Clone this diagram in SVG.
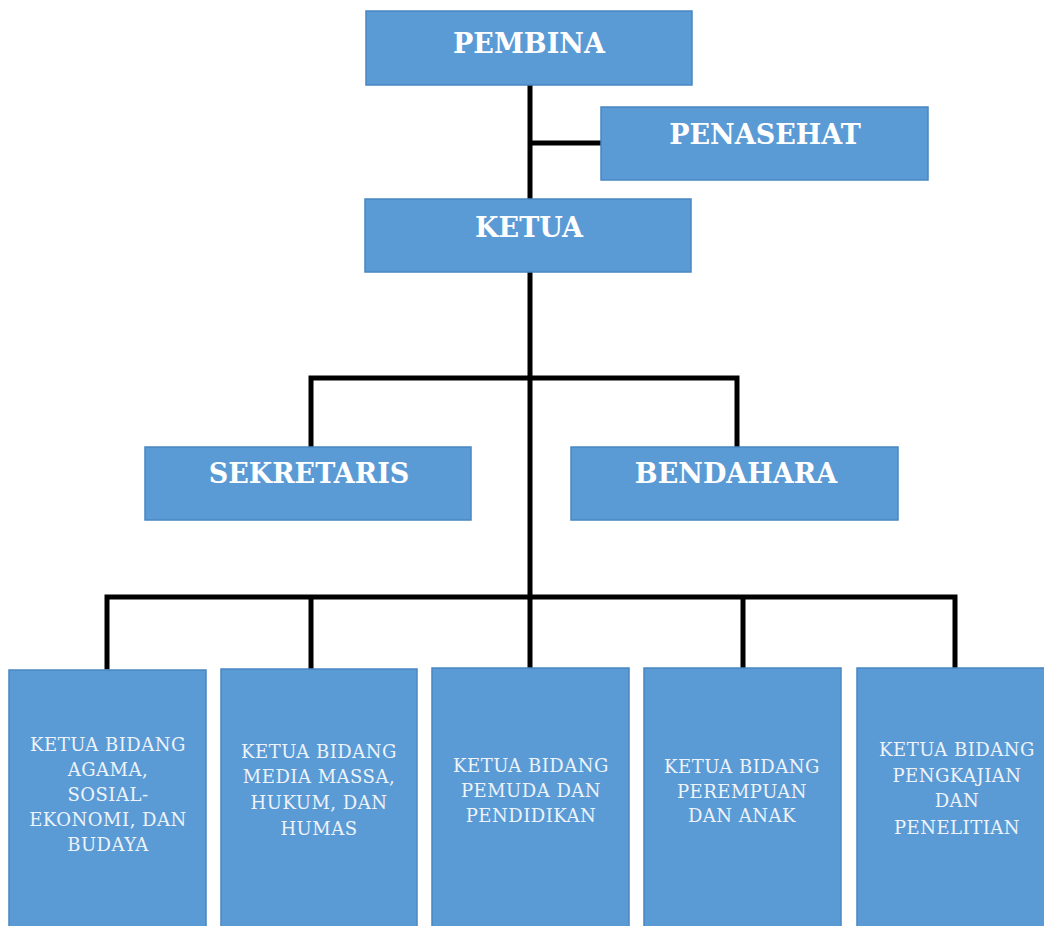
<svg xmlns="http://www.w3.org/2000/svg" width="1044" height="926" viewBox="0 0 1044 926">
<style>
.box{fill:#5b9bd5;stroke:#4a86c2;stroke-width:1.5}
.t{font-family:"DejaVu Serif","Liberation Serif",serif;font-weight:bold;font-size:27px;fill:#ffffff;text-anchor:middle}
.s{font-family:"DejaVu Serif","Liberation Serif",serif;font-size:18px;letter-spacing:0.5px;fill:#eef3fa;text-anchor:middle}
.ln{stroke:#000;stroke-width:5;fill:none;stroke-linecap:square}
</style>
<rect width="1044" height="926" fill="#fff"/>
<g id="connectors">
<path class="ln" d="M530 86V199M530 143H601"/>
<path class="ln" d="M530 273V597M311 378H737M311 378V446M737 378V446"/>
<path class="ln" d="M107 597H955M107 597V667M311 597V667M530 597V667M743 597V667M955 597V667"/>
</g>
<g id="pembina"><rect class="box" x="366" y="11" width="326" height="74"/><text class="t" x="529" y="53">PEMBINA</text></g>
<g id="penasehat"><rect class="box" x="601" y="107" width="327" height="73"/><text class="t" x="765" y="144">PENASEHAT</text></g>
<g id="ketua"><rect class="box" x="365" y="199" width="326" height="73"/><text class="t" x="529" y="237">KETUA</text></g>
<g id="sekretaris"><rect class="box" x="145" y="447" width="326" height="73"/><text class="t" x="309" y="483">SEKRETARIS</text></g>
<g id="bendahara"><rect class="box" x="571" y="447" width="327" height="73"/><text class="t" x="736" y="483">BENDAHARA</text></g>
<g id="bidang1"><rect class="box" x="9" y="670" width="197" height="262"/>
<text class="s" x="108"><tspan x="108" y="751">KETUA BIDANG</tspan><tspan x="108" y="776">AGAMA,</tspan><tspan x="108" y="801">SOSIAL-</tspan><tspan x="108" y="826">EKONOMI, DAN</tspan><tspan x="108" y="851">BUDAYA</tspan></text></g>
<g id="bidang2"><rect class="box" x="221" y="669" width="196" height="263"/>
<text class="s" x="319"><tspan x="319" y="758">KETUA BIDANG</tspan><tspan x="319" y="783">MEDIA MASSA,</tspan><tspan x="319" y="809">HUKUM, DAN</tspan><tspan x="319" y="835">HUMAS</tspan></text></g>
<g id="bidang3"><rect class="box" x="432" y="668" width="197" height="264"/>
<text class="s" x="531"><tspan x="531" y="772">KETUA BIDANG</tspan><tspan x="531" y="797">PEMUDA DAN</tspan><tspan x="531" y="822">PENDIDIKAN</tspan></text></g>
<g id="bidang4"><rect class="box" x="644" y="668" width="197" height="264"/>
<text class="s" x="742"><tspan x="742" y="773">KETUA BIDANG</tspan><tspan x="742" y="798">PEREMPUAN</tspan><tspan x="742" y="822">DAN ANAK</tspan></text></g>
<g id="bidang5"><rect class="box" x="857" y="668" width="195" height="264"/>
<text class="s" x="957"><tspan x="957" y="756">KETUA BIDANG</tspan><tspan x="957" y="782">PENGKAJIAN</tspan><tspan x="957" y="807">DAN</tspan><tspan x="957" y="834">PENELITIAN</tspan></text></g>
</svg>
